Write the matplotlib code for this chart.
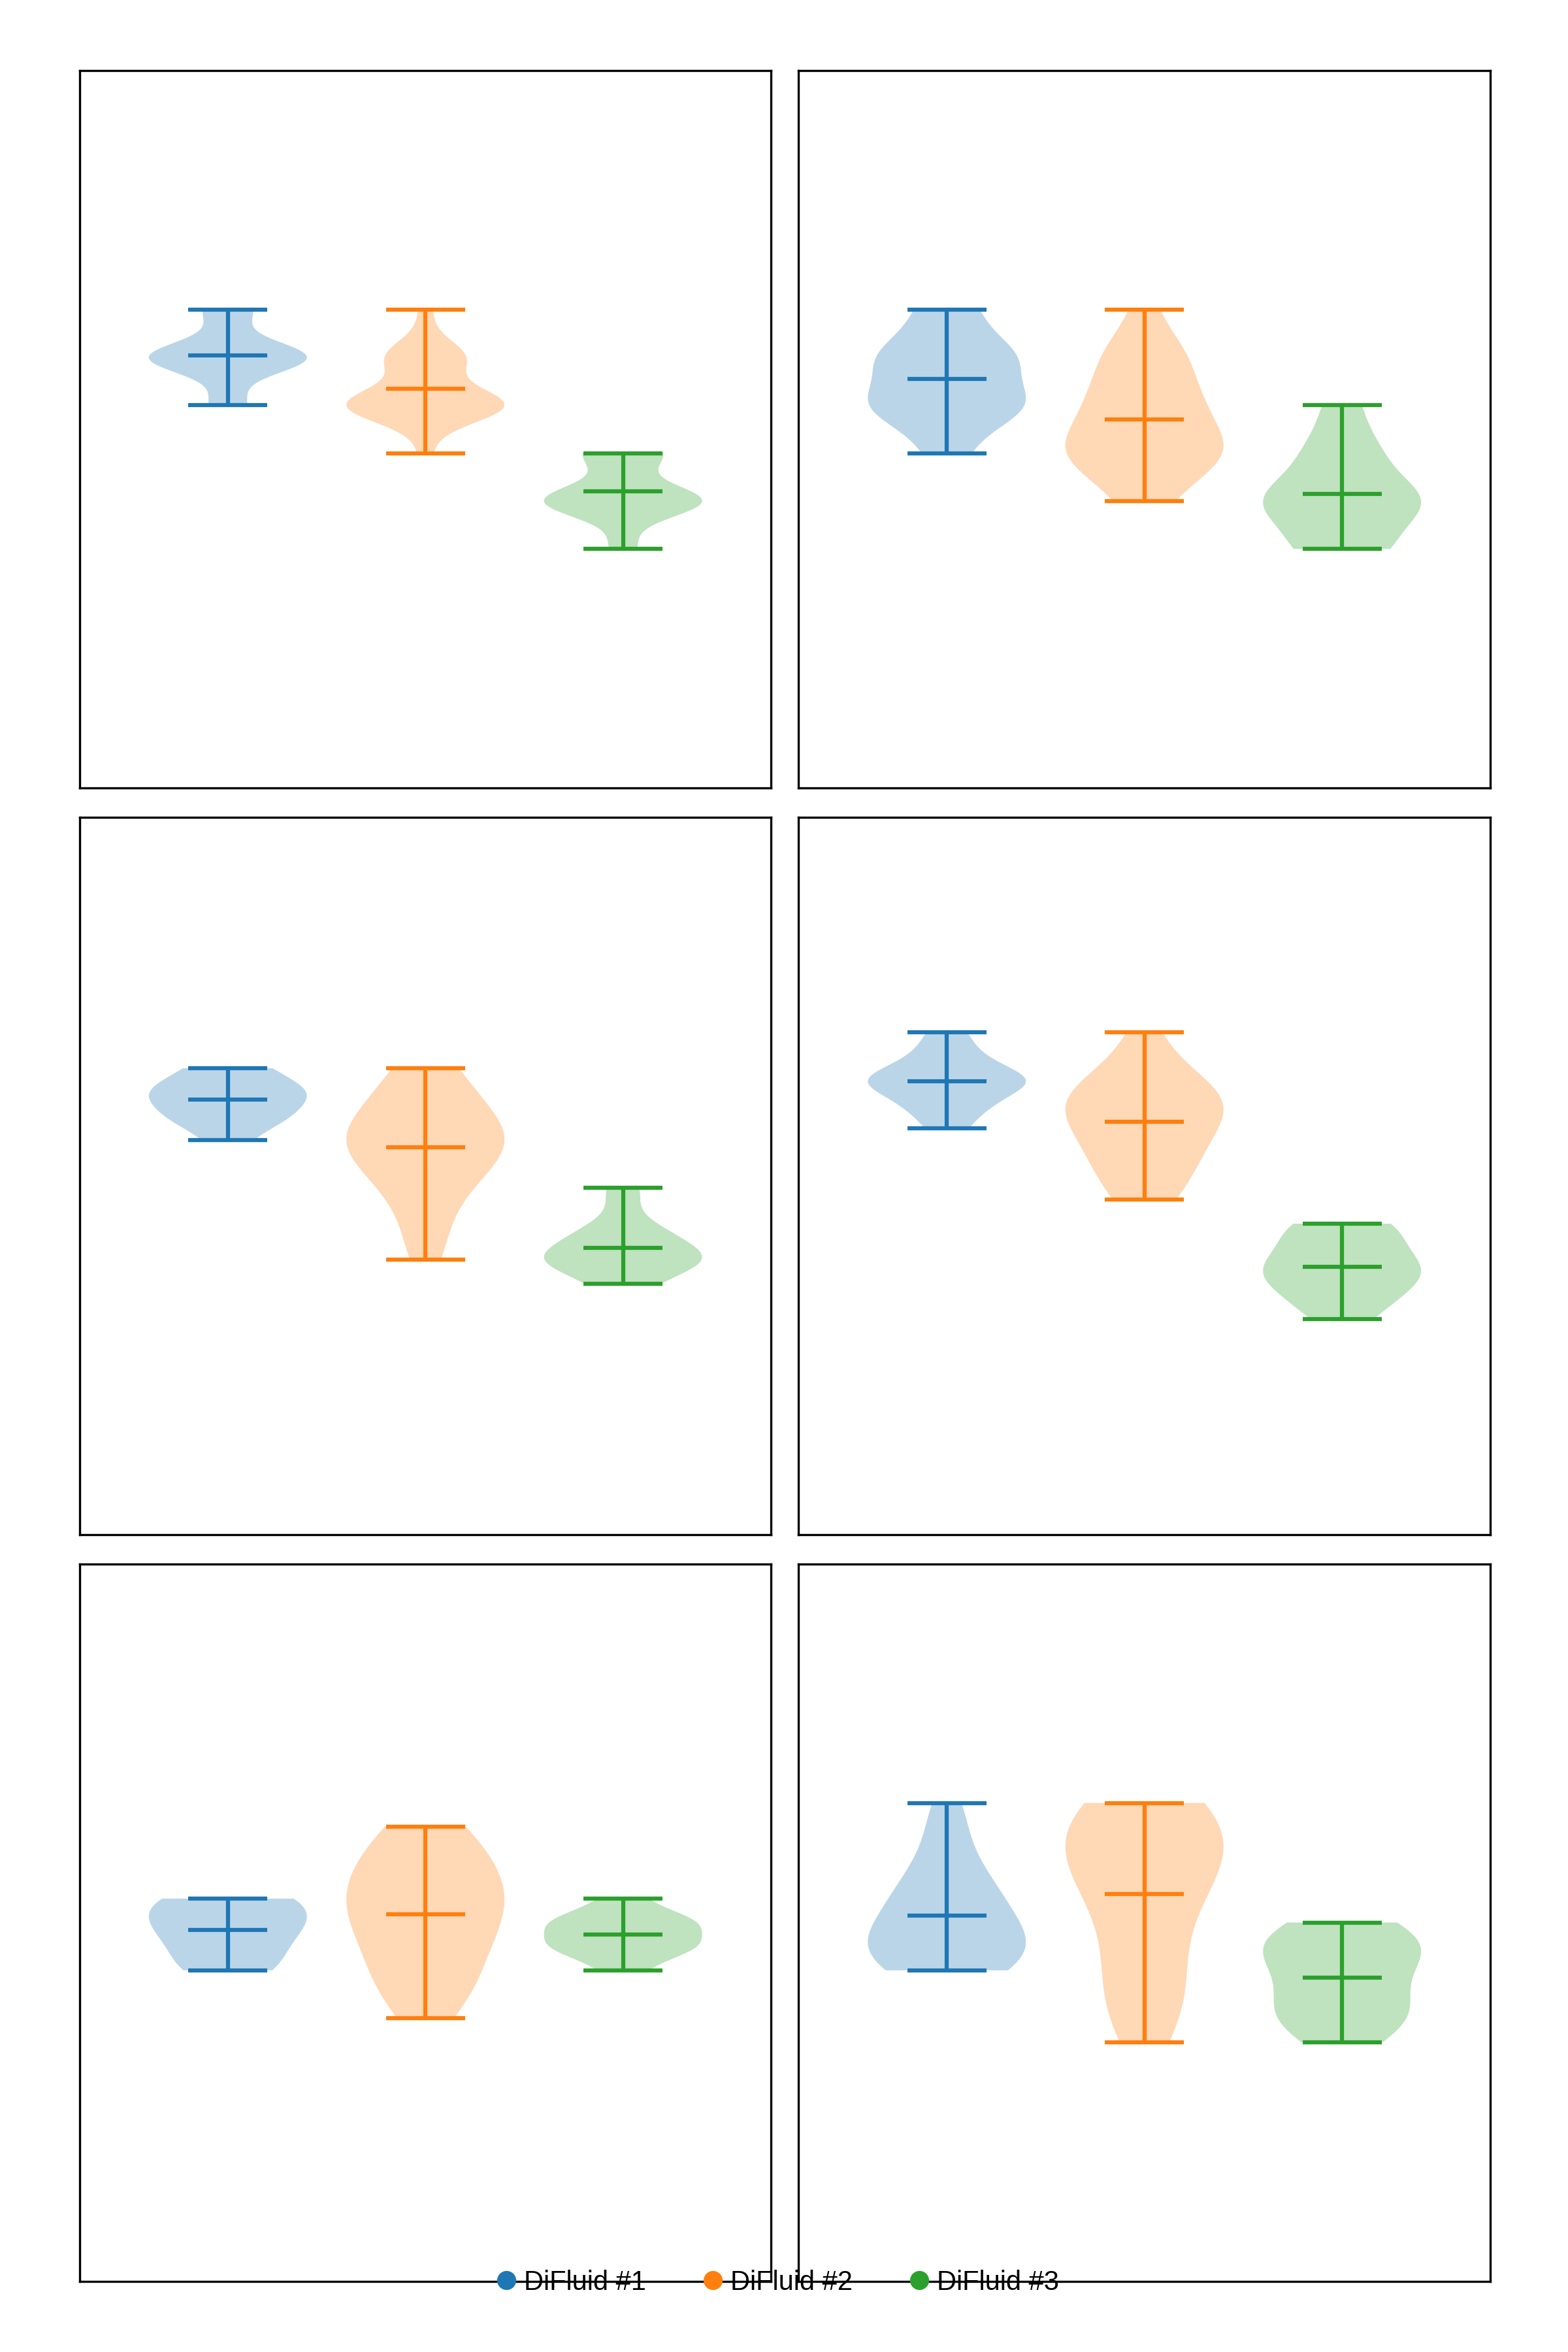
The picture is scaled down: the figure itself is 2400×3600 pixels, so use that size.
import numpy as np
import matplotlib.pyplot as plt
from matplotlib.lines import Line2D

plt.rcParams['font.family'] = ['Liberation Sans', 'DejaVu Sans']

devices = ["DiFluid #1", "DiFluid #2", "DiFluid #3"]
colors = ["#1f77b4", "#ff7f0e", "#2ca02c"]

# readings per device, in steps of 0.01 % TDS: distinct levels and how often each was read
levels_1 = [[16, 18, 20], [14, 16, 18, 20], [10, 12, 14]]
counts_1 = [[3, 13, 4], [1, 12, 6, 1], [2, 12, 6]]

levels_2 = [[14, 16, 18, 20], [12, 14, 16, 18, 20], [10, 12, 14, 16]]
counts_2 = [[2, 8, 7, 3], [2, 8, 5, 4, 1], [5, 9, 4, 2]]

levels_3 = [[20, 21, 22, 23], list(range(15, 24)), [14, 15, 16, 17, 18]]
counts_3 = [[1, 3, 4, 2], [1, 1, 1, 2, 3, 5, 3, 2, 2], [3, 9, 5, 1, 2]]

levels_4 = [[17, 18, 19, 20, 21], list(range(14, 22)), [9, 10, 11, 12, 13]]
counts_4 = [[2, 4, 9, 3, 2], [2, 2, 3, 3, 5, 3, 1, 1], [2, 4, 6, 4, 4]]

levels_5 = [[13, 14, 15, 16], list(range(11, 20)), [13, 14, 15, 16]]
counts_5 = [[2, 2, 3, 3], [1, 2, 2, 2, 3, 3, 3, 2, 2], [1, 4, 4, 1]]

levels_6 = [list(range(13, 21)), list(range(10, 21)), list(range(10, 16))]
counts_6 = [[4, 5, 3, 3, 2, 1, 1, 1], [1, 1, 2, 1, 1, 1, 2, 2, 3, 3, 3], [2, 4, 3, 3, 5, 3]]

all_levels = [levels_1, levels_2, levels_3, levels_4, levels_5, levels_6]
all_counts = [counts_1, counts_2, counts_3, counts_4, counts_5, counts_6]
half_range = 15

fig, axes = plt.subplots(3, 2, figsize=(8, 12))
fig.subplots_adjust(left=0.0508, right=0.9504, top=0.97, bottom=0.0301,
                    wspace=0.0397, hspace=0.0408)

for ax, levels, counts in zip(axes.flat, all_levels, all_counts):
    data = [np.repeat(np.array(l, dtype=float), c) for l, c in zip(levels, counts)]
    parts = ax.violinplot(data, widths=0.8, showmeans=True, showextrema=True)
    for body, c in zip(parts['bodies'], colors):
        body.set_facecolor(c)
        body.set_edgecolor('none')
        body.set_alpha(0.3)
    for key in ['cmeans', 'cmins', 'cmaxes', 'cbars']:
        parts[key].set_color(colors)

    lo = min(min(l) for l in levels)
    hi = max(max(l) for l in levels)
    mid = (lo + hi) / 2
    ax.set_ylim(mid - half_range, mid + half_range)
    ax.set_xlim(0.25, 3.75)
    ax.set_xticks([])
    ax.set_yticks([])

handles = [Line2D([], [], marker='o', linestyle='', color=c, markersize=6) for c in colors]
fig.legend(handles, devices, loc='center', bbox_to_anchor=(0.497, 0.0295), ncol=3,
           frameon=False, fontsize=10, handlelength=0.5, handletextpad=0.4,
           columnspacing=2.2)

fig.savefig('out.png', dpi=300)
